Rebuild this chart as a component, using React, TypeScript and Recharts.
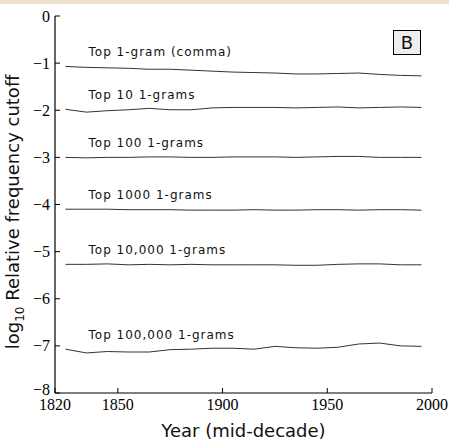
// Cutoff frequencies of top-N 1-grams by mid-decade year (panel B)
import { LineChart, Line, XAxis, YAxis, ReferenceDot, Label } from 'recharts';

const years = [1825, 1835, 1845, 1855, 1865, 1875, 1885, 1895, 1905, 1915, 1925, 1935, 1945, 1955, 1965, 1975, 1985, 1995];

const top1 = [-1.07, -1.09, -1.10, -1.11, -1.13, -1.13, -1.15, -1.17, -1.19, -1.20, -1.21, -1.23, -1.23, -1.22, -1.21, -1.24, -1.26, -1.27];
const top10 = [-1.98, -2.04, -2.01, -1.99, -1.96, -1.99, -1.99, -1.95, -1.94, -1.94, -1.94, -1.95, -1.94, -1.93, -1.95, -1.94, -1.93, -1.94];
const top100 = [-3.0, -3.01, -3.0, -3.0, -2.99, -2.99, -3.0, -3.0, -2.99, -2.99, -2.99, -3.0, -2.99, -2.98, -2.98, -3.0, -3.0, -3.0];
const top1000 = [-4.1, -4.1, -4.1, -4.11, -4.11, -4.11, -4.12, -4.12, -4.12, -4.11, -4.12, -4.12, -4.11, -4.11, -4.12, -4.11, -4.11, -4.12];
const top10000 = [-5.27, -5.27, -5.26, -5.28, -5.27, -5.28, -5.27, -5.28, -5.28, -5.28, -5.28, -5.29, -5.29, -5.27, -5.26, -5.26, -5.28, -5.28];
const top100000 = [-7.07, -7.15, -7.12, -7.13, -7.13, -7.08, -7.07, -7.05, -7.05, -7.07, -7.01, -7.04, -7.05, -7.03, -6.96, -6.94, -7.0, -7.01];

const seriesKeys = ['top1', 'top10', 'top100', 'top1000', 'top10000', 'top100000'];
const seriesValues = [top1, top10, top100, top1000, top10000, top100000];
const seriesNames = ['Top 1-gram (comma)', 'Top 10 1-grams', 'Top 100 1-grams', 'Top 1000 1-grams', 'Top 10,000 1-grams', 'Top 100,000 1-grams'];

const xTicks = [1820, 1850, 1900, 1950, 2000];
const yTicks = [0, -1, -2, -3, -4, -5, -6, -7, -8];

const data = years.map((year, i) => {
  const row: Record<string, number> = { year };
  seriesKeys.forEach((k, j) => (row[k] = seriesValues[j][i]));
  return row;
});

const serif = '"Liberation Serif", "DejaVu Serif", serif';
const sans = '"DejaVu Sans", sans-serif';
const fmt = (v: number) => (v < 0 ? '\u2212' + Math.abs(v) : String(v));

function XTick(props: any) {
  const { x, y, payload } = props;
  return (
    <text x={x} y={y + 2} textAnchor="middle" dominantBaseline="hanging" fontFamily={serif} fontSize={16} fill="#000">
      {payload.value}
    </text>
  );
}

function YTick(props: any) {
  const { x, y, payload } = props;
  // bottom label sits a little higher, as in the original
  const dy = payload.value === -8 ? -4 : 0;
  return (
    <text x={x} y={y + dy} textAnchor="end" dominantBaseline="central" fontFamily={serif} fontSize={16} fill="#000">
      {fmt(payload.value)}
    </text>
  );
}

function SeriesLabel(props: any) {
  const { viewBox, value } = props;
  return (
    <text x={viewBox.x} y={viewBox.y} fontFamily={sans} fontSize={12} letterSpacing={1} fill="#111" dominantBaseline="central">
      {value}
    </text>
  );
}

function YTitle() {
  const cx = 19;
  const cy = 212;
  return (
    <text x={cx} y={cy} transform={`rotate(-90, ${cx}, ${cy})`} textAnchor="middle" fontFamily={sans} fontSize={18} fill="#111">
      log<tspan dy={5} fontSize={12}>10</tspan>
      <tspan dy={-5}> Relative frequency cutoff</tspan>
    </text>
  );
}

const axisLine = { stroke: '#000', strokeWidth: 1.2 };
const tickLine = { stroke: '#000' };

export default function App() {
  return (
    <div style={{ position: 'absolute', left: 0, top: 0, width: 449, height: 442, background: '#fff' }}>
      <div style={{ position: 'absolute', left: 0, top: 0, width: 449, height: 4, background: '#efe2cc' }} />
      <LineChart width={449} height={442} data={data} margin={{ top: 16, right: 17, bottom: 0, left: 10 }}>
        <XAxis
          dataKey="year"
          type="number"
          domain={[1820, 2000]}
          ticks={xTicks}
          allowDataOverflow
          tickSize={-5}
          tickMargin={9}
          height={49}
          axisLine={axisLine}
          tickLine={tickLine}
          tick={<XTick />}
        >
          <Label value="Year (mid-decade)" position="insideBottom" offset={5} fill="#111" fontSize={18} fontFamily={sans} />
        </XAxis>
        <XAxis
          xAxisId="top"
          orientation="top"
          type="number"
          domain={[1820, 2000]}
          ticks={[1850, 1900, 1950]}
          tick={false}
          tickSize={-5}
          height={0}
          axisLine={axisLine}
          tickLine={tickLine}
        />
        <YAxis
          type="number"
          domain={[-8, 0]}
          ticks={yTicks}
          tickSize={-5}
          tickMargin={10}
          width={45}
          axisLine={axisLine}
          tickLine={tickLine}
          tick={<YTick />}
        >
          <Label content={<YTitle />} />
        </YAxis>
        <YAxis
          yAxisId="right"
          orientation="right"
          type="number"
          domain={[-8, 0]}
          ticks={[-1, -2, -3, -4, -5, -6, -7]}
          tick={false}
          tickSize={-5}
          width={0}
          axisLine={axisLine}
          tickLine={tickLine}
        />
        {seriesKeys.map((k) => (
          <Line key={k} dataKey={k} type="linear" stroke="#333" strokeWidth={1} dot={false} isAnimationActive={false} />
        ))}
        {seriesNames.map((name, j) => (
          <ReferenceDot
            key={name}
            x={1836}
            y={seriesValues[j][0] + 0.3}
            r={0}
            fill="none"
            stroke="none"
            label={<SeriesLabel value={name} />}
          />
        ))}
      </LineChart>
      <div
        style={{
          position: 'absolute',
          left: 393,
          top: 30,
          width: 26,
          height: 23,
          border: '1px solid #000',
          background: '#eee',
          fontFamily: sans,
          fontSize: 18,
          lineHeight: '23px',
          textAlign: 'center',
          color: '#111',
        }}
      >
        B
      </div>
    </div>
  );
}
